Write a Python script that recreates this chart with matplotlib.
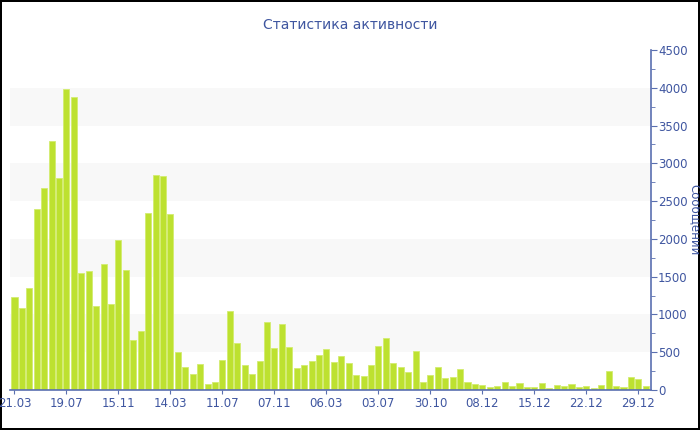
import matplotlib
matplotlib.use('Agg')
import matplotlib.pyplot as plt
from matplotlib.ticker import MultipleLocator

# messages per period
counts = [
    1230, 1085, 1350, 2400, 2673, 3300, 2806, 3990, 3874, 1548,
    1575, 1107, 1663, 1142, 1981, 1593, 666, 785, 2347, 2845,
    2837, 2325, 503, 300, 207, 340, 75, 110, 397, 1041,
    628, 331, 207, 384, 904, 560, 873, 569, 291, 331,
    380, 468, 538, 371, 446, 357, 203, 181, 331, 582,
    693, 353, 309, 238, 521, 110, 194, 300, 159, 168,
    282, 106, 79, 71, 40, 53, 106, 57, 93, 40,
    40, 88, 26, 66, 53, 79, 40, 49, 26, 62,
    251, 53, 40, 172, 150, 53,
]
tick_labels = ['21.03', '19.07', '15.11', '14.03', '11.07', '07.11', '06.03',
               '03.07', '30.10', '08.12', '15.12', '22.12', '29.12']
tick_step = 7

TXT = '#3f56a0'
AXC = '#5a6fb0'

fig = plt.figure(figsize=(7, 4.3), dpi=100)
fig.patch.set_edgecolor('black')
fig.patch.set_linewidth(1.5)
ax = fig.add_axes([10 / 700, 1 - 390 / 430, 641 / 700, 340 / 430])

# alternating background bands
for lo in range(500, 4500, 1000):
    ax.axhspan(lo, lo + 500, color='#f8f8f8', zorder=0, lw=0)

xs = list(range(len(counts)))
ax.bar(xs, counts, width=0.82, color='#bde130', edgecolor='#d3ec70',
       linewidth=0.6, zorder=2)

ax.set_xlim(-0.6, len(counts) - 0.3)
ax.set_ylim(0, 4500)

ax.set_xticks(xs[::tick_step])
ax.set_xticklabels(tick_labels)

ax.yaxis.tick_right()
ax.yaxis.set_major_locator(MultipleLocator(500))
ax.yaxis.set_minor_locator(MultipleLocator(250))
ax.tick_params(axis='y', which='major', length=4, color=AXC, labelcolor=TXT,
               labelsize=8.5, pad=1)
ax.tick_params(axis='y', which='minor', length=3, color=AXC)
ax.tick_params(axis='x', length=3, color=AXC, labelcolor=TXT, labelsize=8.5, pad=2)

for side in ['left', 'top']:
    ax.spines[side].set_visible(False)
for side in ['right', 'bottom']:
    ax.spines[side].set_color(AXC)
    ax.spines[side].set_linewidth(1.2)

fig.text(0.5, 1 - 25 / 430, 'Статистика активности', color=TXT,
         fontsize=10, ha='center', va='center')
fig.text(688 / 700, 0.49, 'Сообщений', color=TXT, fontsize=8.5,
         rotation=270, ha='left', va='center')

fig.savefig('out.png', dpi=100)
